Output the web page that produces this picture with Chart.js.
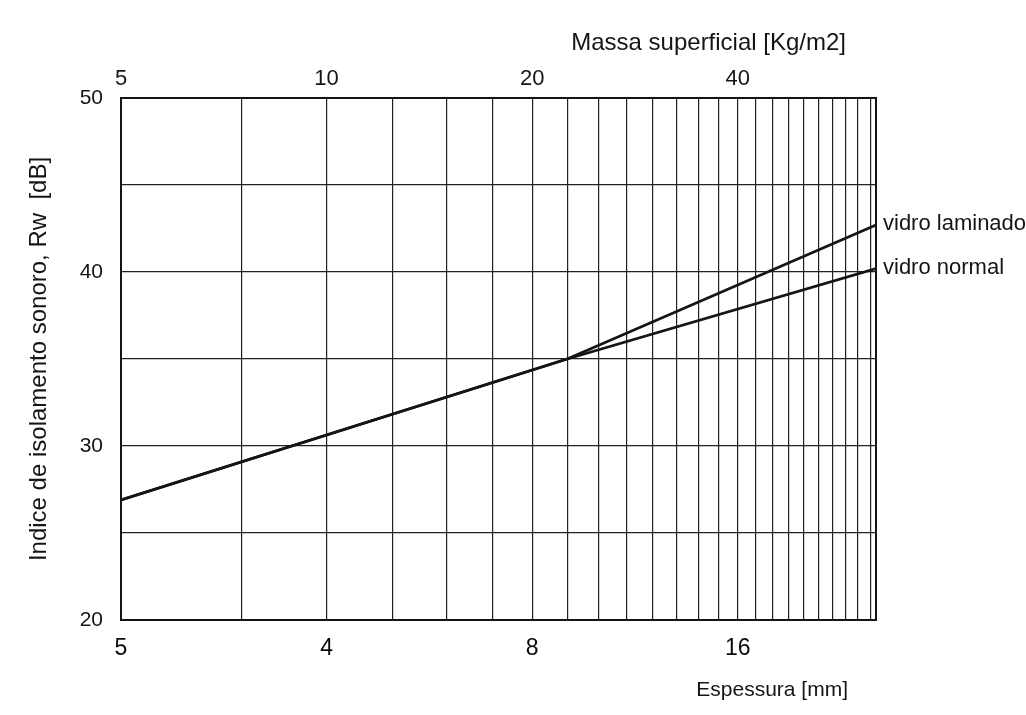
<!DOCTYPE html>
<html lang="pt">
<head>
<meta charset="utf-8">
<title>Indice de isolamento sonoro</title>
<script src="https://cdn.jsdelivr.net/npm/chart.js@4.4.1/dist/chart.umd.min.js"></script>
<style>
    html, body { margin: 0; padding: 0; background: #ffffff; }
    #wrap { width: 1026px; height: 715px; }
</style>
</head>
<body>
<div id="wrap"><canvas id="rwChart" width="1026" height="715"></canvas></div>
<script>
// --- dados ---
const espessuraNormal = [2, 9, 25.5];          // mm
const rwNormal = [26.9, 35.0, 40.2];           // dB
const espessuraLaminado = [2, 9, 25.5];
const rwLaminado = [26.9, 35.0, 42.7];

// eixo inferior (espessura) e superior (massa superficial)
const espessuraMin = 2;
const espessuraMax = 25.5;
const gradeEspessura = [2, 3, 4, 5, 6, 7, 8, 9, 10, 11, 12, 13, 14, 15, 16, 17, 18, 19, 20, 21, 22, 23, 24, 25];
const ticksEspessura = [2, 4, 8, 16];
const rotulosEspessura = ['5', '4', '8', '16'];
const ticksMassa = [5, 10, 20, 40];
const rotulosMassa = ['5', '10', '20', '40'];
const massaPorMm = 2.5;   // kg/m2 por mm de vidro
const ticksRw = [20, 25, 30, 35, 40, 45, 50];
const rotulosRw = ['20', '', '30', '', '40', '', '50'];

const fonte = "'Liberation Sans', Arial, Helvetica, sans-serif";
const preto = '#151515';

const toPoints = (xs, ys) => xs.map((x, i) => ({ x: x, y: ys[i] }));

// textos fora da área do gráfico
const rotulosPlugin = {
    id: 'rotulos',
    afterDraw(chart) {
        const ctx = chart.ctx;
        const area = chart.chartArea;
        const y = chart.scales.y;
        ctx.save();
        ctx.fillStyle = preto;
        ctx.textBaseline = 'middle';
        ctx.textAlign = 'left';

        ctx.font = `22px ${fonte}`;
        ctx.fillText('vidro laminado', area.right + 7, y.getPixelForValue(rwLaminado[rwLaminado.length - 1]) - 1);
        ctx.fillText('vidro normal', area.right + 7, y.getPixelForValue(rwNormal[rwNormal.length - 1]) - 1);

        ctx.textAlign = 'right';
        ctx.font = `24px ${fonte}`;
        ctx.fillText('Massa superficial [Kg/m2]', area.right - 30, 43);

        ctx.font = `21px ${fonte}`;
        ctx.fillText('Espessura [mm]', area.right - 28, 690);
        ctx.restore();
    }
};

new Chart(document.getElementById('rwChart'), {
    type: 'line',
    data: {
        datasets: [{
            label: 'vidro laminado',
            data: toPoints(espessuraLaminado, rwLaminado),
            borderColor: preto,
            borderWidth: 2.8,
            pointRadius: 0,
            tension: 0,
            xAxisID: 'x',
            yAxisID: 'y'
        }, {
            label: 'vidro normal',
            data: toPoints(espessuraNormal, rwNormal),
            borderColor: preto,
            borderWidth: 2.8,
            pointRadius: 0,
            tension: 0,
            xAxisID: 'x',
            yAxisID: 'y'
        }]
    },
    options: {
        responsive: false,
        animation: false,
        devicePixelRatio: 1,
        layout: { padding: 0 },
        plugins: {
            legend: { display: false },
            tooltip: { enabled: false }
        },
        scales: {
            x: {
                type: 'logarithmic',
                position: 'bottom',
                min: espessuraMin,
                max: espessuraMax,
                afterBuildTicks: (scale) => {
                    scale.ticks = gradeEspessura.map(v => ({ value: v }));
                },
                afterFit: (scale) => { scale.height = 95; },
                ticks: {
                    autoSkip: false,
                    maxRotation: 0,
                    padding: 15,
                    color: '#0a0a0a',
                    font: { family: fonte, size: 23 },
                    callback: (value) => {
                        const i = ticksEspessura.indexOf(value);
                        return i >= 0 ? rotulosEspessura[i] : '';
                    }
                },
                grid: { color: '#222222', lineWidth: 1.2, drawTicks: false },
                border: { color: preto, width: 2 }
            },
            massa: {
                type: 'logarithmic',
                position: 'top',
                min: espessuraMin * massaPorMm,
                max: espessuraMax * massaPorMm,
                afterBuildTicks: (scale) => {
                    scale.ticks = ticksMassa.map(v => ({ value: v }));
                },
                afterFit: (scale) => { scale.height = 98; },
                ticks: {
                    autoSkip: false,
                    maxRotation: 0,
                    padding: 6,
                    color: preto,
                    font: { family: fonte, size: 22 },
                    callback: (value) => {
                        const i = ticksMassa.indexOf(value);
                        return i >= 0 ? rotulosMassa[i] : '';
                    }
                },
                grid: { drawOnChartArea: false, drawTicks: false },
                border: { color: preto, width: 2 }
            },
            y: {
                type: 'linear',
                position: 'left',
                min: 20,
                max: 50,
                afterBuildTicks: (scale) => {
                    scale.ticks = ticksRw.map(v => ({ value: v }));
                },
                afterFit: (scale) => { scale.width = 121; },
                ticks: {
                    padding: 18,
                    color: preto,
                    font: { family: fonte, size: 21 },
                    callback: (value) => {
                        const i = ticksRw.indexOf(value);
                        return i >= 0 ? rotulosRw[i] : '';
                    }
                },
                title: {
                    display: true,
                    text: 'Indice de isolamento sonoro, Rw  [dB]',
                    color: preto,
                    font: { family: fonte, size: 24 },
                    padding: { top: 25, bottom: 0 }
                },
                grid: { color: '#222222', lineWidth: 1.2, drawTicks: false },
                border: { color: preto, width: 2 }
            },
            direita: {
                type: 'linear',
                position: 'right',
                min: 20,
                max: 50,
                afterFit: (scale) => { scale.width = 150; },
                ticks: { display: false },
                grid: { drawOnChartArea: false, drawTicks: false },
                border: { color: preto, width: 2 }
            }
        }
    },
    plugins: [rotulosPlugin]
});
</script>
</body>
</html>
